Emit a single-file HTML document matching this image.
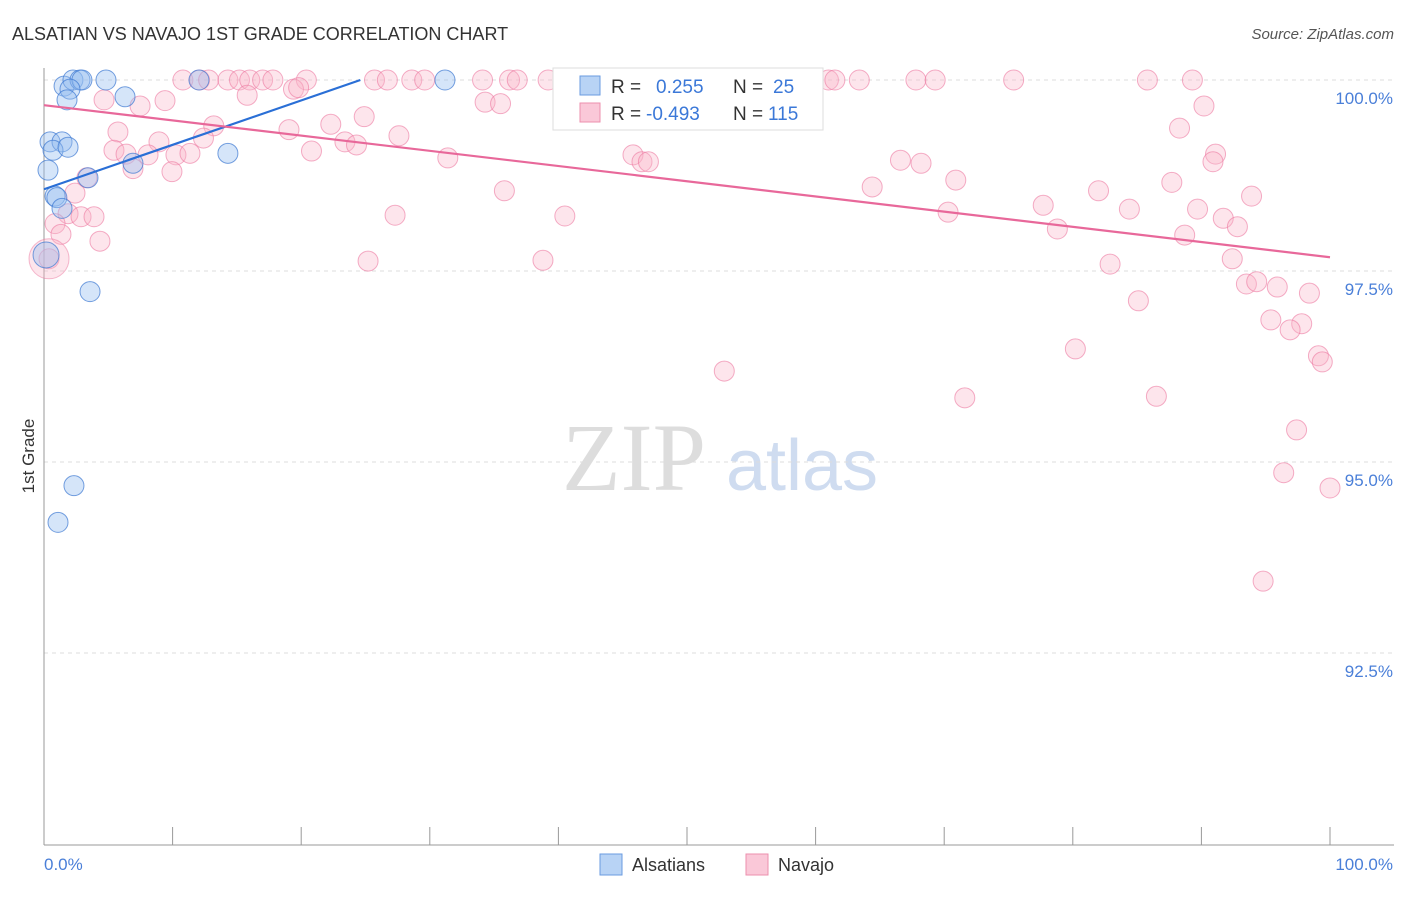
<!DOCTYPE html>
<html><head><meta charset="utf-8">
<style>
body{margin:0;background:#fff;font-family:"Liberation Sans",sans-serif;}
svg text{font-family:"Liberation Sans",sans-serif;}
</style></head>
<body>
<svg id="chart" width="1406" height="892" xmlns="http://www.w3.org/2000/svg">
<text x="12" y="40" font-size="18" fill="#333">ALSATIAN VS NAVAJO 1ST GRADE CORRELATION CHART</text>
<text x="1394" y="39" font-size="15" fill="#555" text-anchor="end" font-style="italic">Source: ZipAtlas.com</text>
<g>
<text x="634" y="490" font-size="96" fill="#ddd" text-anchor="middle" style="font-family:'Liberation Serif',serif">ZIP</text>
<text x="802" y="490" font-size="72" fill="#cfdcf0" text-anchor="middle">atlas</text>
</g>
<g id="grid"></g>
<g id="axes"></g>
<g id="marks"></g>
<g id="trends"></g>
<g>
<rect x="553" y="68" width="270" height="62" fill="#fff" stroke="#ddd"/>
<rect x="580" y="76" width="20" height="19" fill="#b8d3f5" stroke="#6a9be0"/>
<rect x="580" y="103" width="20" height="19" fill="#fac8d8" stroke="#ec8fae"/>
<text x="611" y="93" font-size="19" fill="#333">R =</text>
<text x="656" y="93" font-size="19" fill="#3b78d8">0.255</text>
<text x="733" y="93" font-size="19" fill="#333">N =</text>
<text x="773" y="93" font-size="19" fill="#3b78d8">25</text>
<text x="611" y="120" font-size="19" fill="#333">R =</text>
<text x="646" y="120" font-size="19" fill="#3b78d8">-0.493</text>
<text x="733" y="120" font-size="19" fill="#333">N =</text>
<text x="768" y="120" font-size="19" fill="#3b78d8">115</text>
</g>
<g>
<rect x="600" y="854" width="22" height="21" fill="#b8d3f5" stroke="#6a9be0"/>
<text x="632" y="871" font-size="18" fill="#333">Alsatians</text>
<rect x="746" y="854" width="22" height="21" fill="#fac8d8" stroke="#ec8fae"/>
<text x="778" y="871" font-size="18" fill="#333">Navajo</text>
</g>
<text transform="translate(34,456) rotate(-90)" font-size="17" fill="#333" text-anchor="middle">1st Grade</text>
</svg>
<script>
const yTicks=[100,97.5,95,92.5];
const yTickLabels=["100.0%","97.5%","95.0%","92.5%"];
const xTickCount=[0,10,20,30,40,50,60,70,80,90,100];
const xLabels=["0.0%","100.0%"];
const blueX=[1.56,2.25,2.8,2.95,4.82,2.02,1.79,6.3,0.47,1.4,0.7,1.87,0.31,0.86,1.0,1.4,3.42,6.92,14.3,3.58,2.33,1.09,12.05,31.18,0.16];
const blueY=[99.92,100,100,100,100,99.88,99.74,99.78,99.19,99.19,99.08,99.12,98.82,98.48,98.46,98.32,98.72,98.91,99.04,97.23,94.69,94.21,100,100,97.71];
const pinkX=[10.8,12.1,12.8,14.3,15.2,16.0,17.0,17.8,20.4,25.7,26.7,28.6,29.6,34.1,36.2,36.8,39.2,40.6,44.3,46.0,47.9,52.5,56.3,58.8,61.0,61.5,63.4,67.8,69.3,75.4,85.8,89.3,
4.67,7.47,9.41,15.8,19.4,19.8,34.3,35.5,90.2,88.3,5.75,8.94,5.44,6.38,8.09,10.26,11.35,13.2,12.4,6.92,9.95,19.05,20.8,22.3,23.4,24.3,24.9,27.6,31.4,45.8,46.5,47.0,66.6,68.2,91.1,90.9,64.4,70.9,35.8,40.5,27.3,70.3,77.7,82.0,84.4,87.7,89.7,93.9,91.7,92.8,78.8,88.7,3.34,2.41,1.87,0.86,1.32,2.88,3.89,4.35,0.39,25.2,38.8,82.9,92.4,93.5,94.3,95.9,98.4,85.1,95.4,97.8,96.9,80.2,52.9,99.1,99.4,71.6,86.5,97.4,96.4,100,94.8,56.5];
const pinkY=[100,100,100,100,100,100,100,100,100,100,100,100,100,100,100,100,100,100,100,100,100,100,100,100,100,100,100,100,100,100,100,100,
99.74,99.66,99.73,99.8,99.88,99.9,99.71,99.69,99.66,99.37,99.32,99.19,99.08,99.03,99.02,99.02,99.04,99.4,99.24,98.84,98.8,99.35,99.07,99.42,99.19,99.15,99.52,99.27,98.98,99.02,98.93,98.93,98.95,98.91,99.03,98.93,98.6,98.69,98.55,98.22,98.23,98.27,98.36,98.55,98.31,98.66,98.31,98.48,98.19,98.08,98.05,97.97,98.72,98.52,98.25,98.12,97.98,98.21,98.21,97.89,97.66,97.63,97.64,97.59,97.66,97.33,97.36,97.29,97.21,97.11,96.86,96.81,96.73,96.48,96.19,96.39,96.31,95.84,95.86,95.42,94.86,94.66,93.44,99.78];
const blueTrendX=[0,24.6];
const blueTrendY=[98.57,100];
const pinkTrendX=[0,100];
const pinkTrendY=[99.67,97.68];
const NS="http://www.w3.org/2000/svg";
const sx=v=>44+v*12.86;
const sy=v=>80+(100-v)*76.4;
function mk(tag,attrs,parent){const e=document.createElementNS(NS,tag);for(const k in attrs)e.setAttribute(k,attrs[k]);document.getElementById(parent).appendChild(e);return e;}
yTicks.forEach((t,i)=>{
 const l=mk('line',{x1:44,x2:1394,y1:sy(t),y2:sy(t),stroke:'#ddd','stroke-dasharray':'4,4'},'grid');
 
 
 const tx=mk('text',{x:1393,y:sy(t)+24,'font-size':17,fill:'#4a7fd8','text-anchor':'end'},'axes');
 tx.textContent=yTickLabels[i];
 
 
});
const ya=mk('line',{x1:44,x2:44,y1:68,y2:845,stroke:'#999'},'axes');


const xa=mk('line',{x1:44,x2:1394,y1:845,y2:845,stroke:'#999'},'axes');


xTickCount.forEach(t=>{
 const l=mk('line',{x1:sx(t),x2:sx(t),y1:827,y2:845,stroke:'#999'},'axes');
 
 
});
const xl0=mk('text',{x:44,y:870,'font-size':17,fill:'#4a7fd8'},'axes');xl0.textContent=xLabels[0];


const xl1=mk('text',{x:1393,y:870,'font-size':17,fill:'#4a7fd8','text-anchor':'end'},'axes');xl1.textContent=xLabels[1];


pinkX.forEach((x,i)=>{
 const c=mk('circle',{cx:sx(x),cy:sy(pinkY[i]),r:10,fill:'rgba(248,180,200,0.35)',stroke:'rgba(236,120,160,0.6)','stroke-width':1},'marks');
 
 
});
const bigP=mk('circle',{cx:sx(0.39),cy:sy(97.66),r:20,fill:'rgba(248,180,200,0.35)',stroke:'rgba(236,120,160,0.5)'},'marks');


blueX.forEach((x,i)=>{
 const c=mk('circle',{cx:sx(x),cy:sy(blueY[i]),r:(i===24?13:10),fill:'rgba(150,190,240,0.4)',stroke:'rgba(60,120,210,0.7)','stroke-width':1},'marks');
 
 
});
const bt=mk('line',{x1:sx(blueTrendX[0]),y1:sy(blueTrendY[0]),x2:sx(blueTrendX[1]),y2:sy(blueTrendY[1]),stroke:'#2a6fd6','stroke-width':2.2},'trends');


const pt=mk('line',{x1:sx(pinkTrendX[0]),y1:sy(pinkTrendY[0]),x2:sx(pinkTrendX[1]),y2:sy(pinkTrendY[1]),stroke:'#e8689a','stroke-width':2.2},'trends');


</script>
</body></html>
